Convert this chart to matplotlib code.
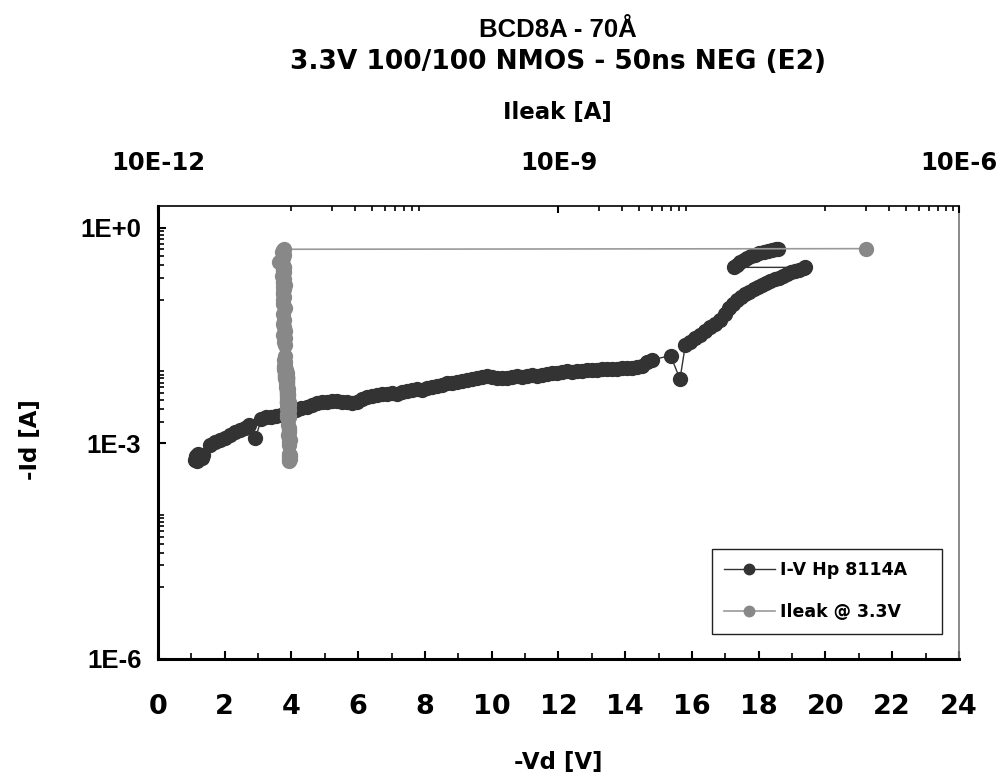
import matplotlib
matplotlib.use("Agg")
import matplotlib.pyplot as plt
from matplotlib.ticker import FixedLocator, NullFormatter

plt.rcParams["font.family"] = ["DejaVu Sans"]
plt.rcParams["font.weight"] = "bold"
arial = ["Liberation Sans", "DejaVu Sans"]

# Pulsos TLP: tension y corriente (I-V Hp 8114A)
vd = [
    1.12, 1.15, 1.18, 1.20, 1.23, 1.27, 1.31, 1.35,
    1.55, 1.70, 1.85, 2.00, 2.15, 2.30, 2.45, 2.60, 2.72,
    2.92,
    3.10, 3.25, 3.40, 3.55, 3.70, 3.85, 4.00, 4.15, 4.30, 4.45,
    4.60, 4.75, 4.90, 5.05, 5.20, 5.35, 5.50, 5.65, 5.80, 5.95,
    6.10, 6.25, 6.40, 6.55, 6.70, 6.85, 7.00, 7.15, 7.30, 7.45,
    7.60, 7.75, 7.90, 8.05, 8.20, 8.35, 8.50, 8.65, 8.80, 8.95,
    9.10, 9.25, 9.40, 9.55, 9.70, 9.85, 10.00, 10.15, 10.30, 10.45,
    10.60, 10.75, 10.90, 11.05, 11.20, 11.35, 11.50, 11.65, 11.80, 11.95,
    12.10, 12.25, 12.40, 12.55, 12.70, 12.85, 13.00, 13.15, 13.30, 13.45,
    13.60, 13.75, 13.90, 14.05, 14.20, 14.35, 14.50, 14.65, 14.80,
    15.36, 15.64, 15.80,
    15.95, 16.10, 16.25, 16.40, 16.55, 16.70, 16.85,
    16.98, 17.10, 17.22, 17.35, 17.48, 17.60, 17.72, 17.85, 17.98, 18.10,
    18.22, 18.35, 18.48, 18.60, 18.72, 18.85, 18.98, 19.10, 19.22, 19.35, 19.40,
    17.25, 17.35, 17.45, 17.55, 17.65, 17.78, 17.90, 18.02, 18.15, 18.28,
    18.40, 18.52, 18.58,
]
id_ = [
    5.8e-4, 6.6e-4, 5.6e-4, 7.0e-4, 6.0e-4, 6.6e-4, 6.2e-4, 6.9e-4,
    9.6e-4, 1.05e-3, 1.12e-3, 1.2e-3, 1.3e-3, 1.42e-3, 1.52e-3, 1.65e-3, 1.78e-3,
    1.18e-3,
    2.2e-3, 2.3e-3, 2.35e-3, 2.4e-3, 2.45e-3, 2.55e-3, 2.7e-3, 2.9e-3, 3.1e-3, 3.2e-3,
    3.4e-3, 3.6e-3, 3.7e-3, 3.8e-3, 3.9e-3, 3.9e-3, 3.8e-3, 3.7e-3, 3.65e-3, 3.8e-3,
    4.1e-3, 4.4e-3, 4.6e-3, 4.7e-3, 4.8e-3, 4.9e-3, 5.0e-3, 4.9e-3, 5.2e-3, 5.4e-3,
    5.6e-3, 5.7e-3, 5.6e-3, 5.8e-3, 6.0e-3, 6.2e-3, 6.4e-3, 6.8e-3, 7.0e-3, 7.1e-3,
    7.3e-3, 7.5e-3, 7.8e-3, 8.0e-3, 8.3e-3, 8.5e-3, 8.4e-3, 8.2e-3, 8.1e-3, 8.2e-3,
    8.3e-3, 8.5e-3, 8.4e-3, 8.6e-3, 8.8e-3, 8.7e-3, 8.9e-3, 9.1e-3, 9.4e-3, 9.6e-3,
    9.8e-3, 1.0e-2, 9.9e-3, 1.0e-2, 1.02e-2, 1.04e-2, 1.05e-2, 1.06e-2, 1.07e-2, 1.08e-2,
    1.07e-2, 1.08e-2, 1.1e-2, 1.1e-2, 1.12e-2, 1.15e-2, 1.2e-2, 1.35e-2, 1.45e-2,
    1.66e-2, 7.8e-3, 2.3e-2,
    2.6e-2, 2.9e-2, 3.2e-2, 3.6e-2, 4.1e-2, 4.6e-2, 5.2e-2,
    6.3e-2, 7.6e-2, 8.6e-2, 0.098, 0.108, 0.118, 0.128, 0.138, 0.148, 0.158,
    0.168, 0.18, 0.19, 0.20, 0.215, 0.23, 0.24, 0.25, 0.26, 0.275, 0.28,
    0.28, 0.30, 0.33, 0.36, 0.38, 0.40, 0.42, 0.44, 0.46, 0.47,
    0.49, 0.50, 0.51,
]
# Corriente de fuga medida a 3.3V tras cada pulso
ileak = [
    9.6e-11, 9.7e-11, 9.5e-11, 9.6e-11, 9.8e-11, 9.5e-11, 9.6e-11, 9.7e-11,
    9.6e-11, 9.5e-11, 9.7e-11, 9.6e-11, 9.4e-11, 9.6e-11, 9.5e-11, 9.6e-11, 9.4e-11,
    9.6e-11,
    9.4e-11, 9.5e-11, 9.3e-11, 9.5e-11, 9.4e-11, 9.2e-11, 9.4e-11, 9.5e-11, 9.3e-11, 9.4e-11,
    9.5e-11, 9.3e-11, 9.4e-11, 9.2e-11, 9.4e-11, 9.3e-11, 9.4e-11, 9.5e-11, 9.3e-11, 9.4e-11,
    9.2e-11, 9.3e-11, 9.4e-11, 9.2e-11, 9.3e-11, 9.4e-11, 9.2e-11, 9.4e-11, 9.3e-11, 9.2e-11,
    9.3e-11, 9.4e-11, 9.2e-11, 9.3e-11, 9.1e-11, 9.3e-11, 9.2e-11, 9.3e-11, 9.1e-11, 9.2e-11,
    9.3e-11, 9.1e-11, 9.2e-11, 9.0e-11, 9.2e-11, 9.1e-11, 9.3e-11, 9.1e-11, 9.0e-11, 9.2e-11,
    9.1e-11, 9.0e-11, 9.2e-11, 9.1e-11, 9.0e-11, 9.1e-11, 8.9e-11, 9.1e-11, 9.0e-11, 9.2e-11,
    9.0e-11, 8.9e-11, 9.1e-11, 9.0e-11, 8.9e-11, 9.0e-11, 9.1e-11, 8.9e-11, 9.0e-11, 8.8e-11,
    9.0e-11, 8.9e-11, 9.0e-11, 8.8e-11, 8.9e-11, 9.0e-11, 8.8e-11, 8.9e-11, 8.8e-11,
    8.9e-11, 9.2e-11, 8.9e-11,
    8.8e-11, 8.9e-11, 8.7e-11, 8.9e-11, 8.8e-11, 8.6e-11, 8.8e-11,
    8.7e-11, 8.9e-11, 8.7e-11, 8.6e-11, 8.8e-11, 8.7e-11, 8.6e-11, 8.8e-11, 8.7e-11, 8.9e-11,
    8.7e-11, 8.6e-11, 8.8e-11, 8.7e-11, 8.5e-11, 8.7e-11, 8.8e-11, 8.6e-11, 8.7e-11, 8.8e-11, 8.7e-11,
    8.8e-11, 8.6e-11, 8.1e-11, 8.5e-11, 8.7e-11, 8.6e-11, 8.8e-11, 8.7e-11, 8.5e-11, 8.7e-11,
    8.6e-11, 8.8e-11, 2.0e-6,
]

vd_ticks = list(range(0, 25, 2))
id_ticks = [1e-6, 1e-3, 1e0]
id_labels = ["1E-6", "1E-3", "1E+0"]
ileak_ticks = [1e-11, 1e-8, 1e-5]
ileak_labels = ["10E-12", "10E-9", "10E-6"]

negro = "#333333"
gris = "#888888"

fig = plt.figure(figsize=(10.05, 7.82), dpi=100)
ax = fig.add_axes([0.1572, 0.1573, 0.7970, 0.5793])

ax.plot(vd, id_, "-", color=negro, lw=1, marker="o", ms=10,
        mfc=negro, mec=negro, zorder=3, label="I-V Hp 8114A")
ax.set_xlim(0, 24)
ax.set_yscale("log")
ax.set_ylim(1e-6, 2.0)

ax.xaxis.set_major_locator(FixedLocator(vd_ticks))
ax.xaxis.set_minor_locator(FixedLocator(list(range(1, 24, 2))))
ax.set_xticklabels([str(t) for t in vd_ticks])
ax.yaxis.set_major_locator(FixedLocator(id_ticks))
menores_y = ([k * 1e-5 for k in range(1, 11)] + [k * 1e-3 for k in range(2, 11)]
             + [k * 1e-1 for k in range(1, 10)])
ax.yaxis.set_minor_locator(FixedLocator(menores_y))
ax.yaxis.set_minor_formatter(NullFormatter())
ax.set_yticklabels(id_labels, fontfamily=arial, fontsize=18.5,
                   fontweight="bold")

ax.tick_params(axis="x", which="major", direction="in", length=5.5, width=1.5,
               labelsize=19.5, pad=25)
ax.tick_params(axis="x", which="minor", direction="in", length=4.5, width=1.2)
ax.tick_params(axis="y", which="major", direction="in", length=6, width=1.5,
               pad=12)
ax.tick_params(axis="y", which="minor", direction="in", length=4, width=1.2)
ax.spines["left"].set_linewidth(2.2)
ax.spines["bottom"].set_linewidth(2.2)
ax.spines["top"].set_visible(False)
ax.spines["right"].set_color("#777777")
ax.spines["right"].set_linewidth(1.2)

# Eje superior para Ileak
ax2 = ax.twiny()
ax2.set_xscale("log")
ax2.set_xlim(1e-11, 1e-5)
ax2.plot(ileak, id_, "-", color="#999999", lw=1.2, marker="o", ms=10,
         mfc=gris, mec=gris, zorder=3, label="Ileak @ 3.3V")
ax2.xaxis.set_major_locator(FixedLocator(ileak_ticks))
menores_x = ([k * 1e-10 for k in range(1, 10)] + [k * 1e-8 for k in range(2, 10)]
             + [k * 1e-6 for k in range(1, 10)])
ax2.xaxis.set_minor_locator(FixedLocator(menores_x))
ax2.xaxis.set_minor_formatter(NullFormatter())
ax2.set_xticklabels(ileak_labels)
ax2.tick_params(axis="x", which="major", direction="in", length=5, width=1.5,
                labelsize=17.5, pad=22)
ax2.tick_params(axis="x", which="minor", direction="in", length=3.5, width=1.2)
for lado in ["left", "bottom", "right"]:
    ax2.spines[lado].set_visible(False)
ax2.spines["top"].set_linewidth(1.2)

# Leyenda con el recuadro fijo en la esquina inferior derecha
h1, l1 = ax.get_legend_handles_labels()
h2, l2 = ax2.get_legend_handles_labels()
leg = ax2.legend(h1 + h2, l1 + l2, loc="upper left", mode="expand",
                 bbox_to_anchor=(712 / 1005, 1 - 632 / 782, 230 / 1005, 83 / 782),
                 bbox_transform=fig.transFigure, borderaxespad=0,
                 fancybox=False, framealpha=1, edgecolor="#222222",
                 prop={"size": 12.5, "weight": "bold"}, handlelength=2.9,
                 markerscale=0.75, borderpad=0.7, labelspacing=1.4,
                 handletextpad=0.3)
leg.get_frame().set_linewidth(1.0)

# Titulos y nombres de ejes
fig.text(0.555, 1 - 30 / 782, "BCD8A - 70Å", ha="center", va="center",
         fontsize=18.5, fontweight="bold", family=arial)
fig.text(0.555, 1 - 62 / 782, "3.3V 100/100 NMOS - 50ns NEG (E2)",
         ha="center", va="center", fontsize=19, fontweight="bold")
fig.text(0.555, 1 - 112 / 782, "Ileak [A]", ha="center", va="center",
         fontsize=16.5, fontweight="bold")
fig.text(0.555, 1 - 762 / 782, "-Vd [V]", ha="center", va="center",
         fontsize=16.5, fontweight="bold")
fig.text(30 / 1005, 1 - 440 / 782, "-Id [A]", ha="center", va="center",
         rotation=90, fontsize=16.5, fontweight="bold")

fig.savefig("out.png", dpi=100)
